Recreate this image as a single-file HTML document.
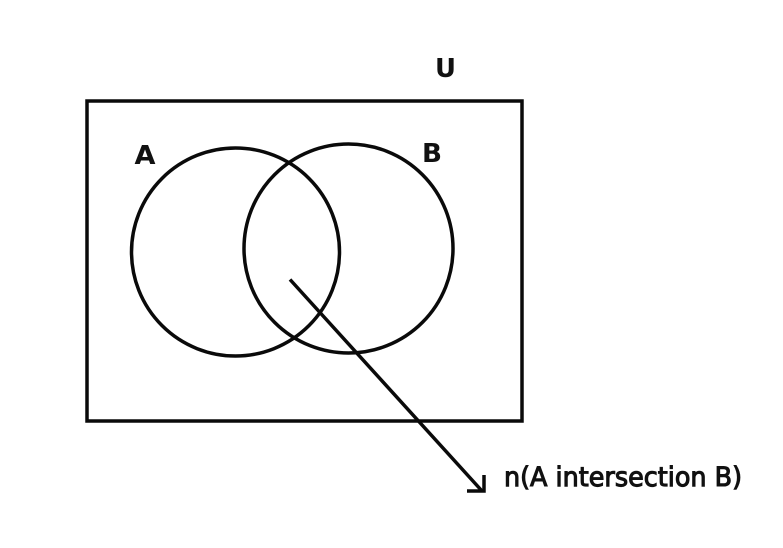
<!DOCTYPE html>
<html>
<head>
<meta charset="utf-8">
<style>
html,body{margin:0;padding:0;background:#fff;width:783px;height:548px;overflow:hidden}
svg{display:block}
text{font-family:"DejaVu Sans","Liberation Sans",sans-serif;fill:#111}
</style>
</head>
<body>
<svg width="783" height="548" viewBox="0 0 783 548" xmlns="http://www.w3.org/2000/svg">
<rect x="87" y="101" width="435" height="320" fill="none" stroke="#0a0a0a" stroke-width="3.500"/>
<circle cx="235.500" cy="252" r="104" fill="none" stroke="#0a0a0a" stroke-width="3.500"/>
<circle cx="348.500" cy="248.500" r="104.500" fill="none" stroke="#0a0a0a" stroke-width="3.500"/>
<path d="M290 279.500L482 491" fill="none" stroke="#0a0a0a" stroke-width="3.500"/>
<path d="M484 475V491H467" fill="none" stroke="#0a0a0a" stroke-width="3.500"/>
<text x="435" y="77" font-size="26" font-weight="bold" textLength="21" lengthAdjust="spacingAndGlyphs">U</text>
<text x="134.500" y="164" font-size="26" font-weight="bold" textLength="21" lengthAdjust="spacingAndGlyphs">A</text>
<text x="422" y="162" font-size="26" font-weight="bold" textLength="20" lengthAdjust="spacingAndGlyphs">B</text>
<text x="504" y="486" font-size="27" stroke="#111" stroke-width="1.100" textLength="238" lengthAdjust="spacingAndGlyphs">n(A intersection B)</text>
</svg>
</body>
</html>
